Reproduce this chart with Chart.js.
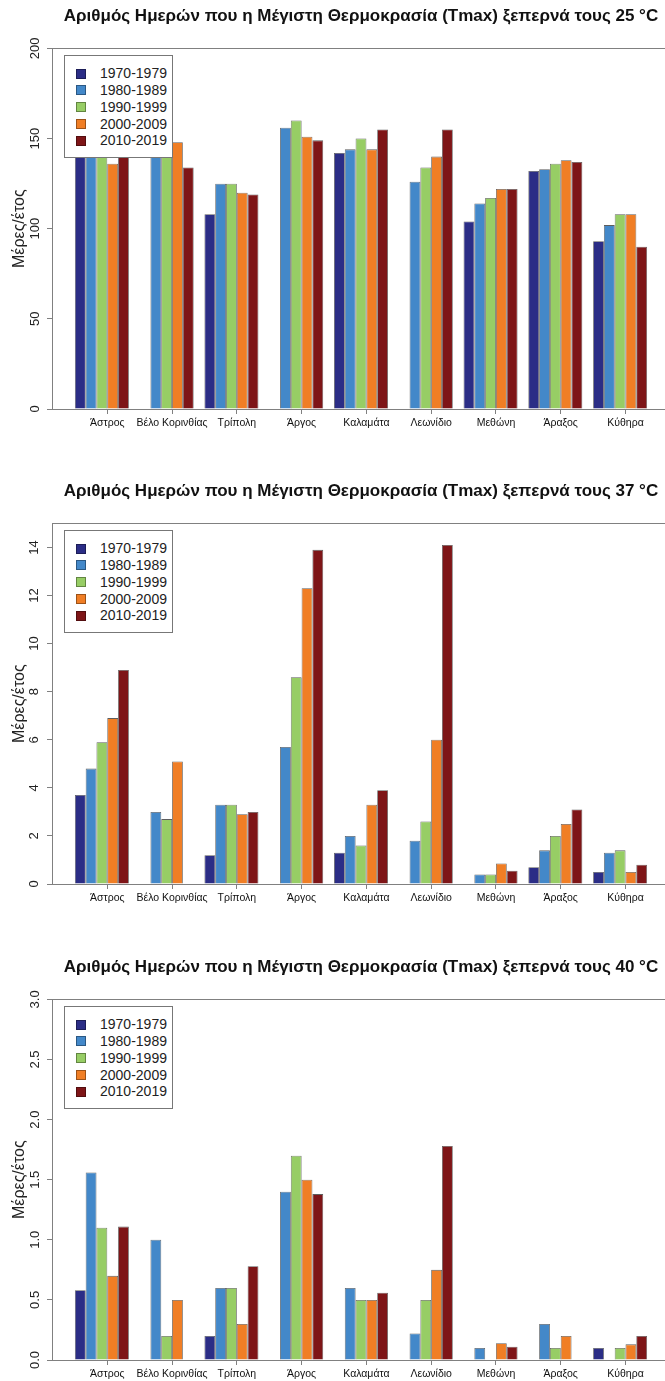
<!DOCTYPE html>
<html>
<head>
<meta charset="utf-8">
<script src="https://cdn.jsdelivr.net/npm/chart.js@4/dist/chart.umd.min.js"></script>
<style>
  html, body { margin: 0; padding: 0; background: #fff; }
  #wrap { position: relative; width: 665px; height: 1381px; overflow: hidden; }
  canvas { position: absolute; left: 0; }
  .legend {
    position: absolute; left: 64px; width: 109px; height: 103px;
    box-sizing: border-box; border: 1px solid #777; background: #fff;
    padding-top: 9px; font: 14px "Liberation Sans", Arial, sans-serif; color: #222;
  }
  .legend .row { position: relative; height: 16.85px; line-height: 16.85px; padding-left: 35px; }
  .legend .sw {
    position: absolute; left: 11px; top: 3.5px; width: 10px; height: 10px;
    box-sizing: border-box; border: 1px solid rgba(0,0,0,0.35);
  }
</style>
</head>
<body>
<div id="wrap"></div>
<script>
const stations = ['Άστρος', 'Βέλο Κορινθίας', 'Τρίπολη', 'Άργος', 'Καλαμάτα', 'Λεωνίδιο', 'Μεθώνη', 'Άραξος', 'Κύθηρα'];
const periods = ['1970-1979', '1980-1989', '1990-1999', '2000-2009', '2010-2019'];

// days per year above 25 °C, one row per decade
const over25 = [
    [145, null, 108, null, 142, null, 104, 132, 93],
    [147, 143, 125, 156, 144, 126, 114, 133, 102],
    [143, 145, 125, 160, 150, 134, 117, 136, 108],
    [136, 148, 120, 151, 144, 140, 122, 138, 108],
    [144, 134, 119, 149, 155, 155, 122, 137, 90],
];
// above 37 °C
const over37 = [
    [3.7, null, 1.2, null, 1.3, null, null, 0.7, 0.5],
    [4.8, 3.0, 3.3, 5.7, 2.0, 1.8, 0.4, 1.4, 1.3],
    [5.9, 2.7, 3.3, 8.6, 1.6, 2.6, 0.4, 2.0, 1.4],
    [6.9, 5.1, 2.9, 12.3, 3.3, 6.0, 0.85, 2.5, 0.5],
    [8.9, null, 3.0, 13.9, 3.9, 14.1, 0.55, 3.1, 0.8],
];
// above 40 °C
const over40 = [
    [0.58, null, 0.2, null, null, null, null, null, 0.1],
    [1.56, 1.0, 0.6, 1.4, 0.6, 0.22, 0.1, 0.3, null],
    [1.1, 0.2, 0.6, 1.7, 0.5, 0.5, null, 0.1, 0.1],
    [0.7, 0.5, 0.3, 1.5, 0.5, 0.75, 0.14, 0.2, 0.13],
    [1.11, null, 0.78, 1.38, 0.56, 1.78, 0.11, null, 0.2],
];

const ticks25 = [0, 50, 100, 150, 200];
const ticks37 = [0, 2, 4, 6, 8, 10, 12, 14];
const ticks40 = [0, 0.5, 1.0, 1.5, 2.0, 2.5, 3.0];

const colors = ['#2b2d86', '#4388c9', '#97cd65', '#f07e25', '#7e1517'];
const FONT = '"Liberation Sans", Arial, sans-serif';

// R-style box: left, top, bottom (right edge falls outside the page)
const frame = {
    id: 'frame',
    afterDatasetsDraw(chart) {
        const a = chart.chartArea, ctx = chart.ctx;
        ctx.save();
        ctx.strokeStyle = '#808080';
        ctx.lineWidth = 1;
        ctx.strokeRect(Math.round(a.left) + 0.5, Math.round(a.top) + 0.5, a.right - a.left, Math.round(a.bottom - a.top));
        ctx.restore();
    }
};

function makeChart(top, title, rows, yMax, yTicks, decimals, tickPad) {
    const canvas = document.createElement('canvas');
    canvas.width = 680;
    canvas.height = 432;
    canvas.style.top = top + 'px';
    document.getElementById('wrap').appendChild(canvas);

    const chart = new Chart(canvas.getContext('2d'), {
        type: 'bar',
        data: {
            datasets: periods.map((p, k) => ({
                label: p,
                data: rows[k].map((v, i) => ({ x: i, y: v })),
                backgroundColor: colors[k],
                borderColor: 'rgba(40,40,40,0.75)',
                borderWidth: 0.8,
                categoryPercentage: 5 / 6,
                barPercentage: 1,
            }))
        },
        options: {
            responsive: false,
            animation: false,
            layout: { padding: { left: 0, right: 10, top: 0, bottom: 0 } },
            scales: {
                x: {
                    type: 'linear',
                    offset: false,
                    min: -0.77,
                    max: 8.77,
                    afterBuildTicks: s => { s.ticks = stations.map((_, i) => ({ value: i + 1 / 12 })); },
                    afterFit: s => { s.height = 23; },
                    ticks: {
                        autoSkip: false,
                        maxRotation: 0,
                        padding: 3,
                        color: '#111',
                        font: { family: FONT, size: 10.5 },
                        callback: (v, i) => stations[i],
                    },
                    grid: { offset: false, drawOnChartArea: false, tickLength: 5, color: '#808080' },
                    border: { display: false },
                },
                y: {
                    min: 0,
                    max: yMax,
                    afterBuildTicks: s => { s.ticks = yTicks.map(v => ({ value: v })); },
                    afterFit: s => { s.width = 52; },
                    ticks: {
                        minRotation: 90,
                        maxRotation: 90,
                        crossAlign: 'center',
                        padding: tickPad,
                        color: '#222',
                        font: { family: FONT, size: 13 },
                        callback: v => v.toFixed(decimals),
                    },
                    grid: { drawOnChartArea: false, tickLength: 5, color: '#808080' },
                    border: { display: false },
                    title: {
                        display: true,
                        text: 'Μέρες/έτος',
                        color: '#222',
                        font: { family: FONT, size: 16 },
                        padding: { top: 10, bottom: 0 },
                    },
                },
            },
            plugins: {
                legend: { display: false },
                tooltip: { enabled: false },
                title: {
                    display: true,
                    fullSize: false,
                    text: title,
                    color: '#111',
                    font: { family: FONT, size: 17, weight: 'bold' },
                    padding: { top: 6, bottom: 22 },
                },
            },
        },
        plugins: [frame],
    });

    // legend box in the top-left corner of the plot, drawn over the bars
    const box = document.createElement('div');
    box.className = 'legend';
    box.style.top = (top + 55) + 'px';
    chart.data.datasets.forEach(ds => {
        const row = document.createElement('div');
        row.className = 'row';
        const sw = document.createElement('span');
        sw.className = 'sw';
        sw.style.background = ds.backgroundColor;
        row.appendChild(sw);
        row.appendChild(document.createTextNode(ds.label));
        box.appendChild(row);
    });
    document.getElementById('wrap').appendChild(box);
}

makeChart(0, 'Αριθμός Ημερών που η Μέγιστη Θερμοκρασία (Tmax) ξεπερνά τους 25 °C', over25, 200, ticks25, 0, 1);
makeChart(475, 'Αριθμός Ημερών που η Μέγιστη Θερμοκρασία (Tmax) ξεπερνά τους 37 °C', over37, 15, ticks37, 0, 5);
makeChart(951, 'Αριθμός Ημερών που η Μέγιστη Θερμοκρασία (Tmax) ξεπερνά τους 40 °C', over40, 3, ticks40, 1, 3);
</script>
</body>
</html>
